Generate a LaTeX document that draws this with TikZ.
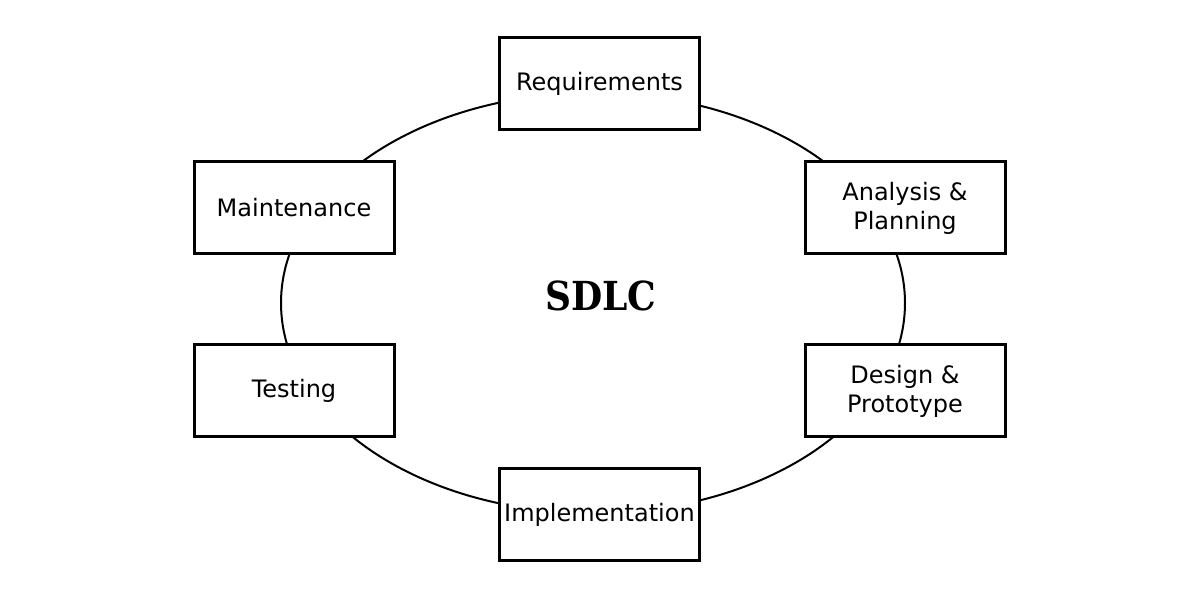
\documentclass[tikz,border=0pt]{standalone}
\usepackage{fontspec}
\setmainfont{DejaVu Sans}
\newfontfamily\titlefont{DejaVu Serif Condensed}
\begin{document}
\begin{tikzpicture}[x=1pt,y=1pt,
  phase/.style={draw=black, line width=3pt, fill=white, minimum width=200pt, minimum height=92pt,
    align=center, inner sep=0pt, font=\fontsize{24}{29}\selectfont},
  cycle/.style={draw=black, line width=2pt}]
\useasboundingbox (0,0) rectangle (1200,600);
\fill[white] (0,0) rectangle (1200,600);
\draw[cycle] (593,297) ellipse [x radius=312, y radius=210];
\node[phase] (req) at (599.5,516) {Requirements};
\node[phase] (ana) at (905,392) {Analysis \&\\Planning};
\node[phase] (des) at (905,209) {Design \&\\Prototype};
\node[phase] (imp) at (599.5,85) {Implementation};
\node[phase] (tes) at (294,209) {Testing};
\node[phase] (mai) at (294,392) {Maintenance};
\node[font=\titlefont\bfseries\fontsize{40}{48}\selectfont] (title) at (601,304) {SDLC};
\end{tikzpicture}
\end{document}
